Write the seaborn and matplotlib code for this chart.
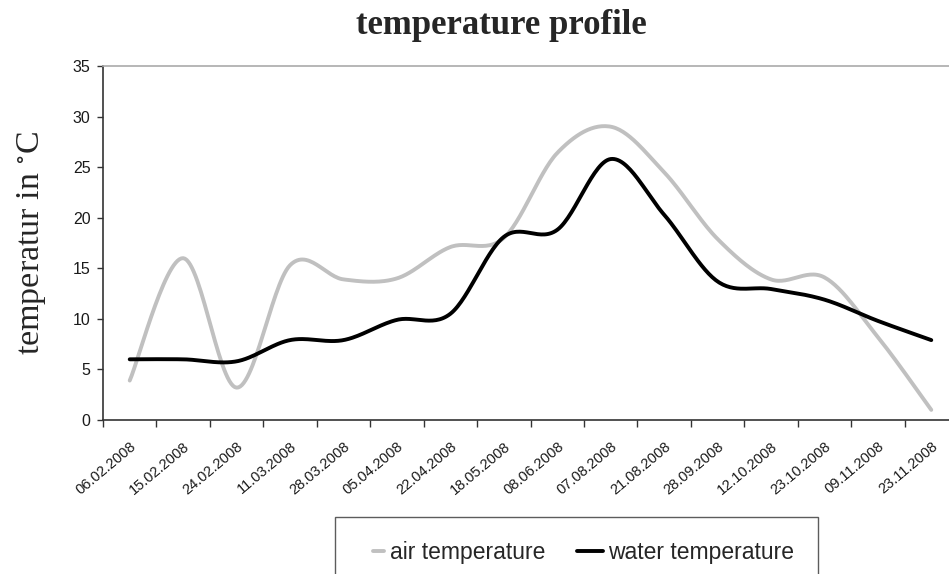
import numpy as np
import pandas as pd
import matplotlib
matplotlib.use("Agg")
import matplotlib.pyplot as plt
from matplotlib.legend_handler import HandlerLine2D
import seaborn as sns

dates = ["06.02.2008", "15.02.2008", "24.02.2008", "11.03.2008", "28.03.2008",
         "05.04.2008", "22.04.2008", "18.05.2008", "08.06.2008", "07.08.2008",
         "21.08.2008", "28.09.2008", "12.10.2008", "23.10.2008", "09.11.2008",
         "23.11.2008"]
air_temp = [3.9, 16.0, 3.2, 15.3, 13.9, 14.0, 17.1, 18.0, 26.4, 29.0,
            24.5, 17.9, 13.9, 14.1, 8.2, 1.0]
water_temp = [6.0, 6.0, 5.8, 7.9, 7.9, 9.9, 10.5, 18.1, 18.8, 25.8,
              20.3, 13.7, 12.95, 11.9, 9.8, 7.9]


def smooth(y, n=30):
    """
    Catmull-Rom style curve through the points, like the spreadsheet smoothing.
    """
    y = np.asarray(y, dtype=float)
    x = np.arange(len(y), dtype=float)
    px = np.concatenate([[x[0]], x, [x[-1]]])
    py = np.concatenate([[y[0]], y, [y[-1]]])
    xs, ys = [], []
    for i in range(1, len(px) - 2):
        t = np.linspace(0, 1, n, endpoint=False)
        for p, out in ((px, xs), (py, ys)):
            p0, p1, p2, p3 = p[i - 1], p[i], p[i + 1], p[i + 2]
            m1 = (p2 - p0) / 2
            m2 = (p3 - p1) / 2
            h00 = 2 * t**3 - 3 * t**2 + 1
            h10 = t**3 - 2 * t**2 + t
            h01 = -2 * t**3 + 3 * t**2
            h11 = t**3 - t**2
            out.extend(h00 * p1 + h10 * m1 + h01 * p2 + h11 * m2)
    xs.append(x[-1])
    ys.append(y[-1])
    return np.array(xs), np.array(ys)


class ShortHandler(HandlerLine2D):
    # the grey key in the original is only a short stub
    def create_artists(self, legend, orig_handle, xdescent, ydescent, width,
                       height, fontsize, trans):
        arts = super().create_artists(legend, orig_handle, xdescent, ydescent,
                                      width, height, fontsize, trans)
        line = arts[0]
        yd = np.asarray(line.get_ydata())
        line.set_data(np.linspace(-xdescent + width * 0.55, -xdescent + width, len(yd)), yd)
        return arts


sns.set_style("white")
plt.rcParams["mathtext.fontset"] = "stix"

fig = plt.figure(figsize=(9.49, 5.74), dpi=100)
ax = fig.add_axes([103 / 949, 1 - 420 / 574, (958 - 103) / 949, (420 - 66) / 574])

frames = []
for name, vals in (("air temperature", air_temp), ("water temperature", water_temp)):
    sx, sy = smooth(vals)
    frames.append(pd.DataFrame({"x": sx, "y": sy, "series": name}))
df = pd.concat(frames)

sns.lineplot(data=df, x="x", y="y", hue="series", sort=False,
             palette={"air temperature": "#c0c0c0", "water temperature": "#000000"},
             linewidth=2.8, ax=ax, legend=False)

ax.set_xlim(-0.5, len(dates) - 0.5)
ax.set_ylim(0, 35)
ax.set_yticks(range(0, 36, 5))
ax.set_xticks(range(len(dates)))
ax.set_xticklabels(dates, rotation=40, ha="right", rotation_mode="anchor",
                   fontsize=10.5, family="Liberation Sans", color="#1a1a1a")
ax.set_xticks(np.arange(-0.5, len(dates)), minor=True)
ax.tick_params(axis="x", which="major", length=0, pad=14)
ax.tick_params(axis="x", which="minor", length=5, width=1, color="#333333",
               direction="out", bottom=True)
ax.tick_params(axis="y", length=4, width=1, color="#333333", direction="out",
               left=True, labelsize=11.5, labelcolor="#1a1a1a", pad=5)
for lab in ax.get_yticklabels():
    lab.set_family("Liberation Sans")

ax.set_xlabel("")
ax.set_ylabel("temperatur in $^{\\circ}$C", family="Liberation Serif", fontsize=24.5,
              labelpad=18)

for side in ("left", "bottom"):
    ax.spines[side].set_color("#333333")
    ax.spines[side].set_linewidth(1.2)
ax.spines["top"].set_color("#aaaaaa")
ax.spines["top"].set_linewidth(1.2)
ax.spines["right"].set_visible(False)

fig.text(501 / 949, 1 - 25 / 574, "temperature profile", ha="center", va="center",
         family="Liberation Serif", fontweight="bold", fontsize=25)

air_key = plt.Line2D([], [], color="#c0c0c0", linewidth=2.8)
water_key = plt.Line2D([], [], color="#000000", linewidth=2.8)
leg = fig.legend([air_key, water_key], ["air temperature", "water temperature"], ncol=2,
                 loc="upper left", bbox_to_anchor=(335 / 949, 1 - 517 / 574),
                 frameon=True, fancybox=False, borderpad=1.05, borderaxespad=0,
                 handlelength=1.1, handletextpad=0.25, columnspacing=1.4,
                 handler_map={air_key: ShortHandler()},
                 prop={"family": "Liberation Sans", "size": 16.5})
leg.get_frame().set_edgecolor("#333333")
leg.get_frame().set_linewidth(1.0)

fig.savefig("out.png", dpi=100)
